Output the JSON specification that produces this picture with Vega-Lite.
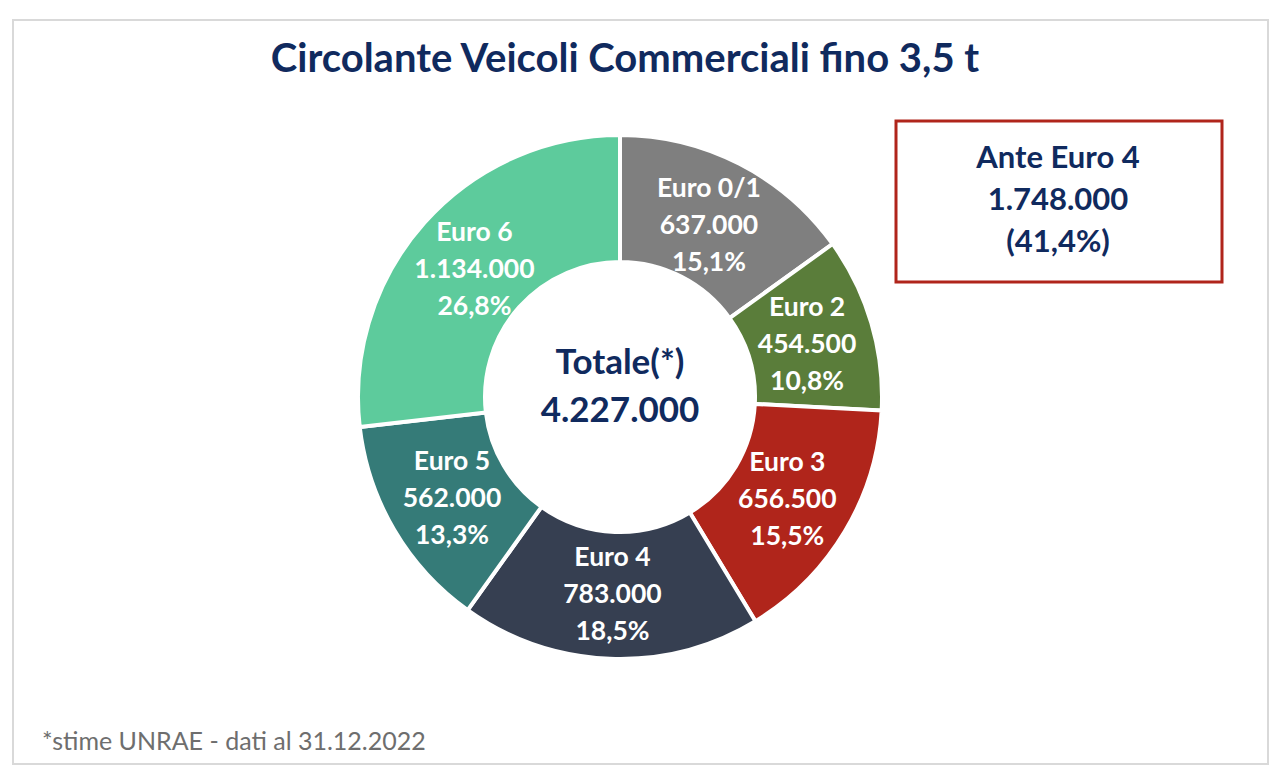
{
  "$schema": "https://vega.github.io/schema/vega-lite/v6.json",
  "width": 1280,
  "height": 779,
  "autosize": {"type": "fit", "contains": "padding"},
  "padding": {"left": 13, "top": 20, "right": 12, "bottom": 15},
  "background": "white",
  "config": {
    "view": {"stroke": "#d9d9d9", "strokeWidth": 2},
    "font": "Lato",
    "locale": {"number": {"decimal": ",", "thousands": ".", "grouping": [3], "currency": ["€", ""]}}
  },
  "data": {
    "values": [
      {"ord": 1, "euro": "Euro 0/1", "value": 637000, "pct": 0.151},
      {"ord": 2, "euro": "Euro 2", "value": 454500, "pct": 0.108},
      {"ord": 3, "euro": "Euro 3", "value": 656500, "pct": 0.155},
      {"ord": 4, "euro": "Euro 4", "value": 783000, "pct": 0.185},
      {"ord": 5, "euro": "Euro 5", "value": 562000, "pct": 0.133},
      {"ord": 6, "euro": "Euro 6", "value": 1134000, "pct": 0.268}
    ]
  },
  "layer": [
    {
      "mark": {"type": "arc", "innerRadius": 135, "outerRadius": 262, "stroke": "white", "strokeWidth": 4},
      "encoding": {
        "x": {"value": 607},
        "y": {"value": 377},
        "theta": {"field": "value", "type": "quantitative", "stack": true},
        "order": {"field": "ord", "type": "ordinal"},
        "color": {
          "field": "euro",
          "type": "nominal",
          "legend": null,
          "scale": {
            "domain": ["Euro 0/1", "Euro 2", "Euro 3", "Euro 4", "Euro 5", "Euro 6"],
            "range": ["#7f7f7f", "#5a7d3a", "#b0251b", "#363f51", "#357b78", "#5dcb9c"]
          }
        }
      }
    },
    {
      "mark": {"type": "text", "radius": 195, "dy": -34, "fontSize": 26.5, "fontWeight": "bold", "fill": "white"},
      "encoding": {
        "x": {"value": 607},
        "y": {"value": 377},
        "theta": {"field": "value", "type": "quantitative", "stack": true},
        "order": {"field": "ord", "type": "ordinal"},
        "text": {"field": "euro", "type": "nominal"}
      }
    },
    {
      "mark": {"type": "text", "radius": 195, "dy": 3, "fontSize": 26.5, "fontWeight": "bold", "fill": "white"},
      "encoding": {
        "x": {"value": 607},
        "y": {"value": 377},
        "theta": {"field": "value", "type": "quantitative", "stack": true},
        "order": {"field": "ord", "type": "ordinal"},
        "text": {"field": "value", "type": "quantitative", "format": ",.0f"}
      }
    },
    {
      "mark": {"type": "text", "radius": 195, "dy": 40, "fontSize": 26.5, "fontWeight": "bold", "fill": "white"},
      "encoding": {
        "x": {"value": 607},
        "y": {"value": 377},
        "theta": {"field": "value", "type": "quantitative", "stack": true},
        "order": {"field": "ord", "type": "ordinal"},
        "text": {"field": "pct", "type": "quantitative", "format": ".1%"}
      }
    },
    {
      "transform": [{"aggregate": [{"op": "sum", "field": "value", "as": "total"}]}],
      "layer": [
        {
          "mark": {"type": "text", "text": "Totale(*)", "fontSize": 35, "fontWeight": "bold", "fill": "#102a5e"},
          "encoding": {"x": {"value": 607}, "y": {"value": 343}}
        },
        {
          "mark": {"type": "text", "fontSize": 35, "fontWeight": "bold", "fill": "#102a5e"},
          "encoding": {
            "x": {"value": 607},
            "y": {"value": 391},
            "text": {"field": "total", "type": "quantitative", "format": ",.0f"}
          }
        }
      ]
    },
    {
      "transform": [
        {"filter": "datum.ord <= 3"},
        {"aggregate": [{"op": "sum", "field": "value", "as": "ante"}, {"op": "sum", "field": "pct", "as": "antePct"}]},
        {"calculate": "'(' + replace(format(datum.antePct, '.1%'), '.', ',') + ')'", "as": "antePctLabel"}
      ],
      "layer": [
        {
          "mark": {"type": "rect", "fill": "white", "stroke": "#b0251b", "strokeWidth": 3},
          "encoding": {"x": {"value": 883}, "x2": {"value": 1209}, "y": {"value": 101}, "y2": {"value": 262}}
        },
        {
          "mark": {"type": "text", "text": "Ante Euro 4", "fontSize": 31, "fontWeight": "bold", "fill": "#102a5e"},
          "encoding": {"x": {"value": 1045}, "y": {"value": 139}}
        },
        {
          "mark": {"type": "text", "fontSize": 31, "fontWeight": "bold", "fill": "#102a5e"},
          "encoding": {
            "x": {"value": 1045},
            "y": {"value": 181},
            "text": {"field": "ante", "type": "quantitative", "format": ",.0f"}
          }
        },
        {
          "mark": {"type": "text", "fontSize": 31, "fontWeight": "bold", "fill": "#102a5e"},
          "encoding": {
            "x": {"value": 1045},
            "y": {"value": 223},
            "text": {"field": "antePctLabel", "type": "nominal"}
          }
        }
      ]
    },
    {
      "transform": [{"aggregate": [{"op": "count", "as": "n"}]}],
      "layer": [
        {
          "mark": {"type": "text", "text": "Circolante Veicoli Commerciali fino 3,5 t", "fontSize": 40, "fontWeight": "bold", "fill": "#102a5e"},
          "encoding": {"x": {"value": 612}, "y": {"value": 40}}
        },
        {
          "mark": {"type": "text", "text": "*stime UNRAE - dati al 31.12.2022", "align": "left", "fontSize": 25, "fill": "#6e6e6e"},
          "encoding": {"x": {"value": 29}, "y": {"value": 722}}
        }
      ]
    }
  ]
}
